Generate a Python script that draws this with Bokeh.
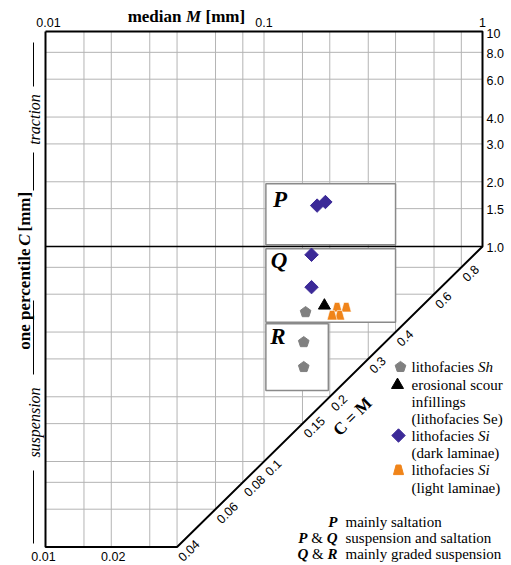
import math
from bokeh.plotting import figure
from bokeh.models import Range1d
from bokeh.core.properties import value
from bokeh.embed import file_html
from bokeh.resources import INLINE

# ---------------- data ----------------
M_min, M_max = 0.01, 1.0
C_min, C_max = 0.04, 10.0
C_split = 1.0
grid_M = [0.015, 0.02, 0.03, 0.04, 0.06, 0.08, 0.1, 0.15, 0.2, 0.3, 0.4, 0.6, 0.8]
grid_C = [8, 6, 4, 3, 2, 1.5, 0.8, 0.6, 0.4, 0.3, 0.2, 0.15, 0.1, 0.08, 0.06]
top_ticks = [0.01, 0.1, 1]
top_labels = ["0.01", "0.1", "1"]
bottom_ticks = [0.01, 0.02]
bottom_labels = ["0.01", "0.02"]
right_ticks = [10, 8, 6, 4, 3, 2, 1.5, 1]
right_labels = ["10", "8.0", "6.0", "4.0", "3.0", "2.0", "1.5", "1.0"]
diag_ticks = [0.04, 0.06, 0.08, 0.1, 0.15, 0.2, 0.3, 0.4, 0.6, 0.8]
diag_labels = ["0.04", "0.06", "0.08", "0.1", "0.15", "0.2", "0.3", "0.4", "0.6", "0.8"]

field_names = ["P", "Q", "R"]
field_M0 = [0.102, 0.102, 0.102]
field_M1 = [0.40, 0.40, 0.197]
field_C0 = [1.02, 0.444, 0.214]
field_C1 = [1.96, 0.976, 0.437]

sh_M = [0.155, 0.152, 0.152]
sh_C = [0.495, 0.359, 0.275]
se_M = [0.189]
se_C = [0.531]
dark_M = [0.175, 0.191, 0.165, 0.165]
dark_C = [1.55, 1.61, 0.915, 0.647]
light_M = [0.216, 0.238, 0.222, 0.205]
light_C = [0.521, 0.521, 0.478, 0.478]

# ---------------- layout ----------------
W, H = 511, 565
PXD_X, PXD_Y = 218.5, 215.0
X0_PX, Y0_PX = 45.0, 31.0   # page pixel of M_min / C_max


def fx(X):
    return 10 ** (math.log10(M_min) + (X - X0_PX) / PXD_X)


def fy(Y):
    return 10 ** (math.log10(C_max) - (Y - Y0_PX) / PXD_Y)


p = figure(width=W, height=H, x_axis_type="log", y_axis_type="log",
           x_range=Range1d(fx(0), fx(W)), y_range=Range1d(fy(H), fy(0)),
           toolbar_location=None, output_backend="svg", min_border=0,
           outline_line_color=None, x_axis_location=None, y_axis_location=None)
p.xgrid.visible = False
p.ygrid.visible = False
p.background_fill_color = "white"
p.border_fill_color = "white"

GRID = "#b4b4b4"
BLUE = "#3c2a98"
ORANGE = "#f08419"
GREY = "#808080"
SERIF = value("Liberation Serif")
SANS = value("Liberation Sans")

# grid clipped by the C = M line
p.segment(x0=grid_M, y0=[C_max] * len(grid_M), x1=grid_M,
          y1=[max(m, C_min) for m in grid_M], line_color=GRID, line_width=1)
p.segment(x0=[M_min] * len(grid_C), y0=grid_C, x1=[min(c, M_max) for c in grid_C],
          y1=grid_C, line_color=GRID, line_width=1)

# fields
p.quad(left=field_M0, right=field_M1, bottom=field_C0, top=field_C1,
       fill_color="white", line_color="#8a8a8a", line_width=1.5)

# frame
p.line(x=[M_min, M_max, M_max, C_min, M_min, M_min],
       y=[C_max, C_max, C_split, C_min, C_min, C_max],
       line_color="black", line_width=2)
p.line(x=[M_min, M_max], y=[C_split, C_split], line_color="black", line_width=1.5)

# ---------------- markers ----------------
def shape(xc, yc, pts):
    return ([xc * 10 ** (dx / PXD_X) for dx, dy in pts],
            [yc * 10 ** (dy / PXD_Y) for dx, dy in pts])


PENT = [(5.6 * math.cos(math.radians(90 + 72 * k)), 5.6 * math.sin(math.radians(90 + 72 * k)))
        for k in range(5)]
TRAP = [(-5.0, -4.6), (5.0, -4.6), (2.4, 5.0), (-2.4, 5.0)]

pent = [shape(m, c, PENT) for m, c in zip(sh_M, sh_C)]
p.patches(xs=[a for a, b in pent], ys=[b for a, b in pent], fill_color=GREY, line_color=GREY)
trap = [shape(m, c, TRAP) for m, c in zip(light_M, light_C)]
p.patches(xs=[a for a, b in trap], ys=[b for a, b in trap], fill_color=ORANGE,
          line_color="white", line_width=0.6)
p.scatter(x=se_M, y=se_C, marker="triangle", size=12, fill_color="black", line_color="black")
p.scatter(x=dark_M, y=dark_C, marker="square", angle=math.pi / 4, size=9.5,
          fill_color=BLUE, line_color=BLUE)


def txt(X, Y, s, size="15px", style="normal", align="left", baseline="middle",
        angle=0.0, font=SERIF):
    p.text(x=[fx(X)], y=[fy(Y)], text=[s], text_font=font, text_font_size=size,
           text_font_style=style, text_align=align, text_baseline=baseline,
           angle=angle, text_color="black")


# field letters
for name, X, Y in zip(field_names, [279.5, 278.5, 277.5], [199, 260, 336]):
    txt(X, Y, name, size="23px", style="bold italic", align="center")

# ---------------- axes texts ----------------
p.text(x=top_ticks, y=[fy(22)] * 3, text=top_labels, text_font=SANS, text_font_size="12.5px",
       text_align="center", text_baseline="middle", text_color="black", x_offset=[3, 0, 0])
p.text(x=bottom_ticks, y=[fy(556)] * 2, text=bottom_labels, text_font=SANS,
       text_font_size="12.5px", text_align="center", text_baseline="middle",
       text_color="black", x_offset=[-2, 2])
p.text(x=[fx(486)] * len(right_ticks), y=right_ticks, text=right_labels, text_font=SANS,
       text_font_size="12.5px", text_align="left", text_baseline="middle", text_color="black",
       y_offset=[2, 1, 1, 1, 1, 1, 1, 1])
theta = math.atan2(PXD_Y, PXD_X)
p.text(x=diag_ticks, y=diag_ticks, text=diag_labels, text_font=SANS, text_font_size="12.5px",
       text_align="left", text_baseline="middle", angle=theta, x_offset=3, y_offset=12,
       text_color="black")
txt(352, 416, "C = M", size="17px", style="bold", align="center", angle=theta)

# title
txt(181, 16, "median", size="17px", style="bold", align="right")
txt(193, 16, "M", size="17px", style="bold italic", align="center")
txt(205, 16, "[mm]", size="17px", style="bold", align="left")

# left label
txt(24, 248, "one percentile", size="17px", style="bold", align="right", angle=math.pi / 2)
txt(24, 239.5, "C", size="17px", style="bold italic", align="center", angle=math.pi / 2)
txt(24, 231, "[mm]", size="17px", style="bold", align="left", angle=math.pi / 2)
txt(34, 119, "traction", size="16px", style="italic", align="center", angle=math.pi / 2)
txt(34, 422, "suspension", size="16px", style="italic", align="center", angle=math.pi / 2)
p.segment(x0=[fx(33)] * 4, x1=[fx(33)] * 4,
          y0=[fy(42), fy(152), fy(300), fy(470)], y1=[fy(86), fy(190), fy(374), fy(543)],
          line_color="black", line_width=1)

# ---------------- legend ----------------
LX = 411
leg_y = [366.5, 384.5, 401.5, 418.5, 435, 452.5, 469.5, 487]
lp = shape(fx(400), fy(leg_y[0]), PENT)
p.patch(x=lp[0], y=lp[1], fill_color=GREY, line_color=GREY)
p.scatter(x=[fx(397)], y=[fy(leg_y[1])], marker="triangle", size=12, color="black")
p.scatter(x=[fx(398)], y=[fy(leg_y[4])], marker="square", angle=math.pi / 4, size=9.5, color=BLUE)
lt = shape(fx(398), fy(leg_y[6]), TRAP)
p.patch(x=lt[0], y=lt[1], fill_color=ORANGE, line_color=ORANGE)

txt(LX, leg_y[0], "lithofacies")
txt(477.5, leg_y[0], "Sh", style="italic")
txt(LX, leg_y[1], "erosional scour")
txt(LX, leg_y[2], "infillings")
txt(LX, leg_y[3], "(lithofacies Se)")
txt(LX, leg_y[4], "lithofacies")
txt(477.5, leg_y[4], "Si", style="italic")
txt(LX, leg_y[5], "(dark laminae)")
txt(LX, leg_y[6], "lithofacies")
txt(477.5, leg_y[6], "Si", style="italic")
txt(LX, leg_y[7], "(light laminae)")

# field explanation
ky = [521.5, 537, 553]
txt(337, ky[0], "P", style="bold italic", align="right")
txt(307, ky[1], "P", style="bold italic", align="right")
txt(316.7, ky[1], "&", align="center")
txt(337, ky[1], "Q", style="bold italic", align="right")
txt(307.9, ky[2], "Q", style="bold italic", align="right")
txt(317.4, ky[2], "&", align="center")
txt(337, ky[2], "R", style="bold italic", align="right")
txt(345, ky[0], "mainly saltation")
txt(345, ky[1], "suspension and saltation")
txt(345, ky[2], "mainly graded suspension")

open("out.html", "w").write(file_html(p, INLINE))
